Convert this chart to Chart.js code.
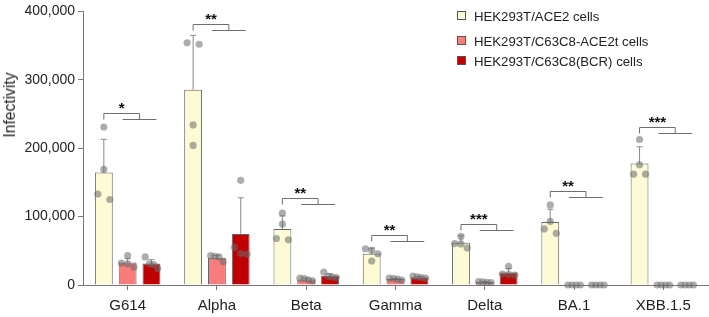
<!DOCTYPE html>
<html>
<head>
<meta charset="utf-8">
<script src="https://cdn.jsdelivr.net/npm/chart.js@4.4.1/dist/chart.umd.min.js"></script>
<style>
  body { margin: 0; background: #fff; font-family: "Liberation Sans", Arial, sans-serif; }
  #wrap { position: relative; width: 709px; height: 317px; }
  .leg { position: absolute; left: 457px; font-size: 13.2px; color: #222; white-space: nowrap; line-height: 16px; }
  .leg i { display: inline-block; width: 7px; height: 7px; border: 1px solid #555; margin-right: 8px; vertical-align: 1px; }
  #ytitle { position: absolute; left: 10px; top: 105px; font-size: 15.6px; color: #222; white-space: nowrap;
    transform: translate(-50%, -50%) rotate(-90deg); }
</style>
</head>
<body>
<div id="wrap">
  <canvas id="chart" width="709" height="317"></canvas>
  <div id="ytitle">Infectivity</div>
  <div class="leg" style="top:9px"><i style="background:#fdfbd6"></i>HEK293T/ACE2 cells</div>
  <div class="leg" style="top:34px"><i style="background:#fa7d7d"></i>HEK293T/C63C8-ACE2t cells</div>
  <div class="leg" style="top:54px"><i style="background:#c00000"></i>HEK293T/C63C8(BCR) cells</div>
</div>
<script>
const variants = ["G614", "Alpha", "Beta", "Gamma", "Delta", "BA.1", "XBB.1.5"];
const seriesNames = ["HEK293T/ACE2 cells", "HEK293T/C63C8-ACE2t cells", "HEK293T/C63C8(BCR) cells"];

// bar heights (means)
const ace2Mean = [164600, 285500, 81800, 45700, 61700, 92000, 177600];
const ace2tMean = [32800, 40000, 8200, 8700, 4300, 0, 0];
const bcrMean = [31300, 74700, 13400, 11500, 18300, 0, 0];

// upward error bars (SD)
const ace2Sd = [48400, 79500, 19200, 8300, 10300, 18700, 24400];
const ace2tSd = [5700, 3300, 1500, 1000, 800, 0, 0];
const bcrSd = [5700, 52800, 3000, 1000, 5700, 0, 0];

// individual replicates
const ace2Dots = [
  [231000, 169000, 133000, 125000],
  [354000, 352000, 234000, 204000],
  [105000, 89000, 68000, 66000],
  [53000, 50500, 45700, 35000],
  [71000, 60500, 60000, 54000],
  [117000, 93000, 82000, 75500],
  [212700, 175700, 162000, 162000]
];
const ace2tDots = [
  [43000, 32000, 31000, 26000],
  [43000, 42000, 41000, 34000],
  [10000, 9500, 7500, 6000],
  [10000, 9500, 8500, 7000],
  [5000, 4500, 4000, 3500],
  [0, 0, 0, 0],
  [0, 0, 0, 0]
];
const bcrDots = [
  [41000, 31000, 30000, 24000],
  [153000, 55000, 46000, 45000],
  [19000, 12500, 11500, 11000],
  [13000, 12000, 11000, 10000],
  [27400, 16000, 15500, 14500],
  [0, 0, 0, 0],
  [0, 0, 0, 0]
];

// significance brackets: height of bracket and star label
const sigLevel = [251000, 381500, 126600, 73000, 89000, 137600, 231000];
const sigLabel = ["*", "**", "**", "**", "***", "**", "***"];

const yTicks = [0, 100000, 200000, 300000, 400000];

const sdAll = [ace2Sd, ace2tSd, bcrSd];
const dotsAll = [ace2Dots, ace2tDots, bcrDots];

const extras = {
  id: "extras",
  afterDatasetsDraw(chart) {
    const ctx = chart.ctx, y = chart.scales.y;
    ctx.save();
    // error bars
    ctx.strokeStyle = "#8a8a8a";
    ctx.lineWidth = 1;
    chart.data.datasets.forEach((ds, di) => {
      chart.getDatasetMeta(di).data.forEach((bar, j) => {
        const sd = sdAll[di][j];
        if (!sd) return;
        const yt = y.getPixelForValue(ds.data[j] + sd);
        ctx.beginPath();
        ctx.moveTo(bar.x, bar.y);
        ctx.lineTo(bar.x, yt);
        ctx.moveTo(bar.x - 3, yt);
        ctx.lineTo(bar.x + 3, yt);
        ctx.stroke();
      });
    });
    // replicate dots, spread sideways where they overlap
    ctx.fillStyle = "rgba(105,105,105,0.55)";
    chart.data.datasets.forEach((ds, di) => {
      chart.getDatasetMeta(di).data.forEach((bar, j) => {
        const pts = dotsAll[di][j].map(v => y.getPixelForValue(v)).sort((a, b) => a - b);
        const groups = [];
        pts.forEach(p => {
          const g = groups[groups.length - 1];
          if (g && p - g[g.length - 1] < 7) g.push(p); else groups.push([p]);
        });
        groups.forEach(g => {
          const n = g.length;
          const span = n > 1 ? Math.min(bar.width * 0.7, (n - 1) * 12) : 0;
          g.forEach((p, k) => {
            const x = bar.x + (n > 1 ? -span / 2 + span * k / (n - 1) : 0);
            ctx.beginPath();
            ctx.arc(x, p, 3.6, 0, Math.PI * 2);
            ctx.fill();
          });
        });
      });
    });
    // brackets
    ctx.strokeStyle = "#6e6e6e";
    ctx.fillStyle = "#111";
    ctx.font = "bold 15px 'Liberation Sans', Arial";
    ctx.textAlign = "center";
    ctx.textBaseline = "alphabetic";
    const m0 = chart.getDatasetMeta(0).data, m1 = chart.getDatasetMeta(1).data, m2 = chart.getDatasetMeta(2).data;
    variants.forEach((v, j) => {
      const yt = Math.round(y.getPixelForValue(sigLevel[j])) + 0.5;
      const yb = yt + 6;
      const x1 = m0[j].x, xm = (m1[j].x + m2[j].x) / 2;
      ctx.beginPath();
      ctx.moveTo(x1, yb);
      ctx.lineTo(x1, yt);
      ctx.lineTo(xm, yt);
      ctx.lineTo(xm, yb);
      ctx.moveTo(m1[j].x - 5, yb);
      ctx.lineTo(m2[j].x + 5, yb);
      ctx.stroke();
      ctx.fillText(sigLabel[j], (x1 + xm) / 2, yt - 1);
    });
    ctx.restore();
  }
};

new Chart(document.getElementById("chart"), {
  type: "bar",
  data: {
    labels: variants,
    datasets: [
      { label: seriesNames[0], data: ace2Mean, backgroundColor: "#fdfbd6" },
      { label: seriesNames[1], data: ace2tMean, backgroundColor: "#fa7d7d" },
      { label: seriesNames[2], data: bcrMean, backgroundColor: "#c00000" }
    ].map(d => Object.assign(d, { borderColor: "#666", borderWidth: 1, categoryPercentage: 0.8, barPercentage: 0.75 }))
  },
  options: {
    responsive: false,
    animation: false,
    layout: { padding: { top: 8, right: 1, left: 0, bottom: 0 } },
    plugins: { legend: { display: false }, tooltip: { enabled: false } },
    scales: {
      x: {
        grid: { drawOnChartArea: false, offset: false, tickLength: 5, color: "#777" },
        border: { color: "#777" },
        ticks: { color: "#222", font: { family: "'Liberation Sans', Arial", size: 15 }, padding: 7 },
        afterFit: s => { s.height = 32; }
      },
      y: {
        min: 0, max: 400000,
        afterBuildTicks: s => { s.ticks = yTicks.map(v => ({ value: v })); },
        grid: { drawOnChartArea: false, tickLength: 5, color: "#777" },
        border: { color: "#777" },
        ticks: { color: "#222", padding: 3, font: { family: "'Liberation Sans', Arial", size: 14 },
          callback: v => v.toLocaleString("en-US") },
        afterFit: s => { s.width = 83; }
      }
    }
  },
  plugins: [extras]
});
</script>
</body>
</html>
